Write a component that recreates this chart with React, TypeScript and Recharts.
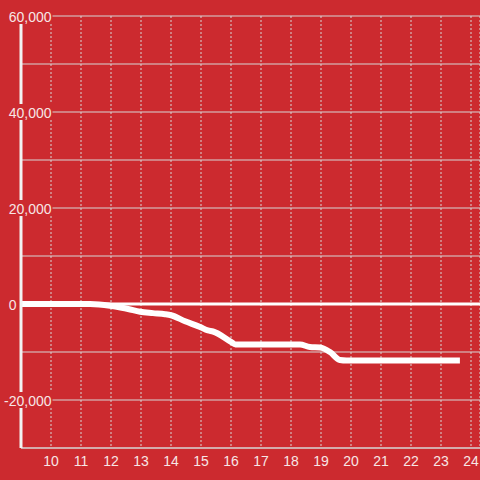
import React from 'react';
import { LineChart, Line, XAxis, YAxis, CartesianGrid, ReferenceLine } from 'recharts';

const hours = [9, 10, 11, 11.3, 11.97, 12.36, 12.57, 12.97, 13.4, 13.8, 14.0, 14.47, 14.97, 15.23, 15.4, 16.0, 16.15, 17, 18, 18.3, 18.63, 18.97, 19.3, 19.63, 19.85, 21, 22, 23, 23.63];
const values = [0, 0, 0, 0, -350, -770, -1040, -1625, -1900, -2125, -2350, -3600, -4800, -5520, -5730, -7900, -8440, -8440, -8440, -8440, -8960, -9060, -10000, -11670, -11770, -11770, -11770, -11770, -11770];
const xTicks = [10, 11, 12, 13, 14, 15, 16, 17, 18, 19, 20, 21, 22, 23, 24];
const yTicks = [-30000, -20000, -10000, 0, 10000, 20000, 30000, 40000, 50000, 60000];
const yLabelTicks = [-20000, 0, 20000, 40000, 60000];

const data = hours.map((h, i) => ({ h, v: values[i] }));

const BG = '#CC2A2F';
const TEXT = '#f7e6e6';
const GRID = '#d6d6d6';
const FONT = '"Liberation Sans", Arial, sans-serif';

const YTick = (props: any) => {
  const { y, payload } = props;
  const val = payload.value;
  if (!yLabelTicks.includes(val)) return <g />;
  const label = val.toLocaleString('en-US');
  if (val === 0) {
    return (
      <g>
        <rect x={5} y={y - 7} width={13.5} height={15} fill={BG} />
        <text x={16.5} y={y + 6} textAnchor="end" fill={TEXT} fontSize={14} fontFamily={FONT}>
          {label}
        </text>
      </g>
    );
  }
  return (
    <g>
      <rect x={0} y={y - 8} width={52.5} height={16} fill={BG} />
      <text x={51.5} y={y + 6} textAnchor="end" fill={TEXT} fontSize={14} fontFamily={FONT}>
        {label}
      </text>
    </g>
  );
};

export default function App() {
  return (
    <div style={{ position: 'absolute', left: 0, top: 0, width: 480, height: 480, background: BG }}>
      <LineChart width={480} height={480} data={data} margin={{ top: 16, right: 0, bottom: 0, left: 0 }}>
        <CartesianGrid vertical={false} stroke={GRID} strokeWidth={1} />
        <CartesianGrid horizontal={false} stroke={GRID} strokeWidth={1} strokeDasharray="2 2" />
        <XAxis
          dataKey="h"
          type="number"
          domain={[9, 24.3]}
          ticks={xTicks}
          height={32}
          axisLine={{ stroke: GRID, strokeWidth: 1 }}
          tickLine={false}
          tickSize={6}
          tickMargin={2}
          tick={{ fill: TEXT, fontSize: 14, fontFamily: FONT }}
          interval={0}
          allowDecimals
        />
        <YAxis
          type="number"
          domain={[-30000, 60000]}
          ticks={yTicks}
          width={21}
          axisLine={{ stroke: '#f2f2f2', strokeWidth: 3 }}
          tickLine={false}
          tick={<YTick />}
          interval={0}
        />
        <ReferenceLine y={0} stroke="#ffffff" strokeWidth={3} />
        <Line
          type="monotone"
          dataKey="v"
          stroke="#ffffff"
          strokeWidth={6}
          dot={false}
          activeDot={false}
          isAnimationActive={false}
        />
      </LineChart>
    </div>
  );
}
